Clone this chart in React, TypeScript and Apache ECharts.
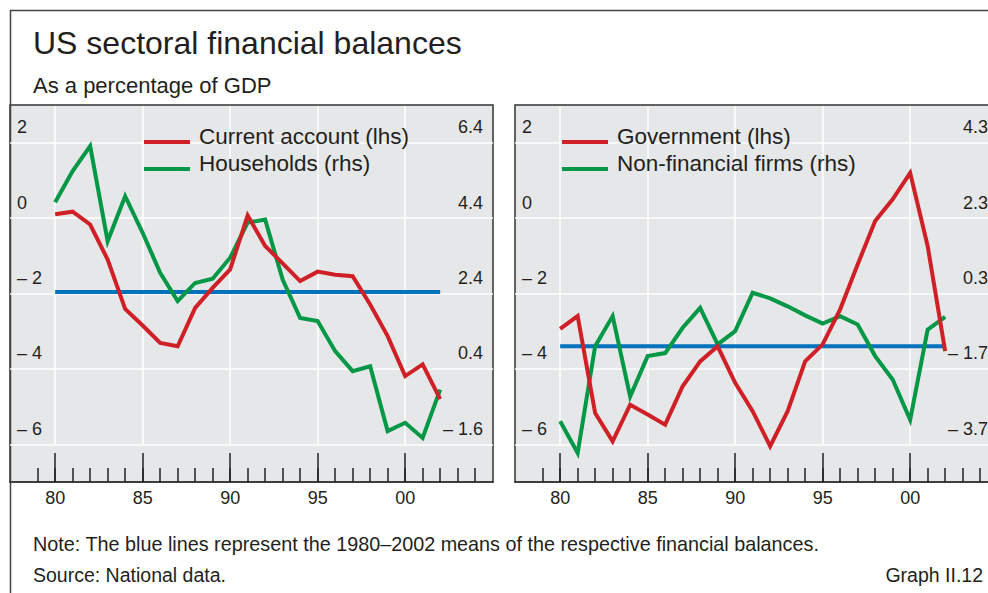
import React, { useEffect, useRef } from 'react';
import * as echarts from 'echarts';

const FONT = "'Liberation Sans', Arial, Helvetica, sans-serif";
const TEXT = '#231f20';
const RED = '#cf2027';
const GREEN = '#009846';
const BLUE = '#0071bc';
const PANEL_BG = '#e6e7e8';

const years = [1980, 1981, 1982, 1983, 1984, 1985, 1986, 1987, 1988, 1989, 1990, 1991, 1992, 1993, 1994, 1995, 1996, 1997, 1998, 1999, 2000, 2001, 2002];

// Left panel
const currentAccount = [0.1, 0.17, -0.17, -1.1, -2.41, -2.85, -3.31, -3.4, -2.38, -1.85, -1.36, 0.07, -0.74, -1.2, -1.67, -1.42, -1.5, -1.54, -2.29, -3.13, -4.19, -3.88, -4.8];
const households = [4.82, 5.65, 6.31, 3.79, 4.98, 4.01, 2.95, 2.2, 2.68, 2.79, 3.35, 4.28, 4.36, 2.77, 1.75, 1.67, 0.87, 0.34, 0.47, -1.25, -1.03, -1.43, -0.15];
const meanLeft = -1.96;

// Right panel
const government = [-2.94, -2.6, -5.17, -5.92, -4.95, -5.21, -5.48, -4.46, -3.8, -3.4, -4.37, -5.12, -6.05, -5.12, -3.8, -3.35, -2.42, -1.23, -0.08, 0.5, 1.2, -0.74, -3.53];
const nonFinancialFirms = [-3.09, -3.93, -1.1, -0.3, -2.43, -1.36, -1.28, -0.61, -0.08, -1.05, -0.7, 0.32, 0.17, -0.04, -0.28, -0.5, -0.3, -0.52, -1.36, -1.98, -3.05, -0.66, -0.32];
const meanRight = -3.4;

const meanYears = [1980, 2002];

const xTickYears = [1980, 1985, 1990, 1995, 2000];
const minorTickYears = [1979, 1980, 1981, 1982, 1983, 1984, 1985, 1986, 1987, 1988, 1989, 1990, 1991, 1992, 1993, 1994, 1995, 1996, 1997, 1998, 1999, 2000, 2001, 2002, 2003, 2004];
const lhsTicks = [-6, -4, -2, 0, 2];
const rhsTicksLeft = [-1.6, 0.4, 2.4, 4.4, 6.4];
const rhsTicksRight = [-3.7, -1.7, 0.3, 2.3, 4.3];

const X_MIN = 1977.42;
const X_MAX = 2005.02;

const pairs = (vals: number[]) => years.map((y, i) => [y, vals[i]]);
const meanPairs = (v: number) => meanYears.map((y) => [y, v]);

const fmtInt = (v: number) => (v < 0 ? '\u2013 ' + Math.abs(v) : String(v));
const fmtDec = (v: number) => (v < 0 ? '\u2013 ' + Math.abs(v).toFixed(1) : v.toFixed(1));
const fmtYear = (v: number) => String(Math.round(v) % 100).padStart(2, '0');

function panelAxes(p: number, rhsMin: number, rhsMax: number, rhsTicks: number[]) {
  const g = p * 2;
  const xAxes = [
    {
      gridIndex: g, type: 'value', min: X_MIN, max: X_MAX, position: 'bottom',
      axisLine: { show: true, onZero: false, lineStyle: { color: '#333', width: 1.5 } },
      axisTick: { show: true, inside: true, length: 29, customValues: xTickYears, lineStyle: { color: '#222', width: 1.5 } },
      axisLabel: { customValues: xTickYears, formatter: fmtYear, fontSize: 18, color: TEXT, fontFamily: FONT, margin: 7 },
      splitLine: { show: false },
    },
    {
      gridIndex: g, type: 'value', min: X_MIN, max: X_MAX, position: 'bottom',
      axisLine: { show: false, onZero: false },
      axisTick: { show: true, inside: true, length: 14, customValues: minorTickYears, lineStyle: { color: '#222', width: 1.5 } },
      axisLabel: { show: false },
      splitLine: { show: false },
    },
    {
      gridIndex: g + 1, type: 'value', min: X_MIN, max: X_MAX, position: 'bottom',
      axisLine: { show: false, onZero: false },
      axisTick: { show: false, customValues: xTickYears },
      axisLabel: { show: false },
      splitLine: { show: true, lineStyle: { color: '#ffffff', width: 1.5 } },
    },
  ];
  const yLabel = { inside: true, verticalAlign: 'bottom', lineHeight: 31, fontSize: 18, color: TEXT, fontFamily: FONT };
  const yAxes = [
    {
      gridIndex: g, type: 'value', min: -7, max: 3, position: 'left',
      axisLine: { show: false },
      axisTick: { show: false, customValues: lhsTicks },
      axisLabel: { ...yLabel, customValues: lhsTicks, margin: 7, formatter: fmtInt },
      splitLine: { show: true, lineStyle: { color: '#ffffff', width: 1.5 } },
    },
    {
      gridIndex: g, type: 'value', min: rhsMin, max: rhsMax, position: 'right',
      axisLine: { show: false },
      axisTick: { show: false, customValues: rhsTicks },
      axisLabel: { ...yLabel, customValues: rhsTicks, margin: 10, formatter: fmtDec },
      splitLine: { show: false },
    },
    { gridIndex: g + 1, type: 'value', min: 0, max: 1, show: false },
  ];
  return { xAxes, yAxes };
}

function lineSeries(name: string, p: number, rhs: boolean, data: number[][], color: string, z: number) {
  return {
    name, type: 'line', xAxisIndex: p * 3, yAxisIndex: p * 3 + (rhs ? 1 : 0), data,
    symbol: 'none', showSymbol: false, z,
    lineStyle: { color, width: 4, cap: 'butt', join: 'miter' },
    itemStyle: { color },
    emphasis: { disabled: true },
  };
}

function legend(left: number, names: string[]) {
  return {
    left, top: 124.5, orient: 'vertical', padding: 0, itemGap: 4,
    itemWidth: 46, itemHeight: 4, icon: 'rect', selectedMode: false,
    data: names,
    itemStyle: { borderWidth: 0 },
    formatter: (name: string) => '{t|' + name + '}',
    textStyle: {
      fontSize: 22.5, color: TEXT, fontFamily: FONT,
      rich: { t: { fontSize: 22.5, color: TEXT, fontFamily: FONT, padding: [0, 0, 12, 4] } },
    },
  };
}

const gridBase = { outerBoundsMode: 'none', containLabel: false };

export default function App() {
  const ref = useRef<HTMLDivElement>(null);
  useEffect(() => {
    if (!ref.current) return;
    const chart = echarts.init(ref.current, undefined, { renderer: 'svg' });
    const L = panelAxes(0, -2.6, 7.4, rhsTicksLeft);
    const R = panelAxes(1, -4.7, 5.3, rhsTicksRight);
    chart.setOption({
      animation: false,
      backgroundColor: '#ffffff',
      textStyle: { fontFamily: FONT },
      grid: [
        { ...gridBase, left: 10, top: 105, width: 483, height: 377, show: true, backgroundColor: PANEL_BG, borderColor: '#333', borderWidth: 1.5 },
        { ...gridBase, left: 10, top: 106, width: 483, height: 338.3, show: false },
        { ...gridBase, left: 515, top: 105, width: 483, height: 377, show: true, backgroundColor: PANEL_BG, borderColor: '#333', borderWidth: 1.5 },
        { ...gridBase, left: 515, top: 106, width: 483, height: 338.3, show: false },
      ],
      xAxis: [...L.xAxes, ...R.xAxes],
      yAxis: [...L.yAxes, ...R.yAxes],
      legend: [
        legend(144, ['Current account (lhs)', 'Households (rhs)']),
        legend(562, ['Government (lhs)', 'Non-financial firms (rhs)']),
      ],
      series: [
        lineSeries('Mean (left)', 0, false, meanPairs(meanLeft), BLUE, 3),
        lineSeries('Households (rhs)', 0, true, pairs(households), GREEN, 4),
        lineSeries('Current account (lhs)', 0, false, pairs(currentAccount), RED, 5),
        lineSeries('Mean (right)', 1, false, meanPairs(meanRight), BLUE, 3),
        lineSeries('Non-financial firms (rhs)', 1, true, pairs(nonFinancialFirms), GREEN, 4),
        lineSeries('Government (lhs)', 1, false, pairs(government), RED, 5),
      ],
      graphic: [
        { type: 'line', shape: { x1: 10, y1: 10.5, x2: 988, y2: 10.5 }, style: { stroke: '#444', lineWidth: 1.5 }, silent: true },
        { type: 'line', shape: { x1: 10.5, y1: 10, x2: 10.5, y2: 593 }, style: { stroke: '#444', lineWidth: 1.5 }, silent: true },
        { type: 'text', x: 33, y: 42.6, style: { text: 'US sectoral financial balances', fontSize: 32, fontFamily: FONT, fill: TEXT, verticalAlign: 'middle', align: 'left' }, silent: true },
        { type: 'text', x: 33, y: 85.1, style: { text: 'As a percentage of GDP', fontSize: 22, fontFamily: FONT, fill: TEXT, verticalAlign: 'middle', align: 'left' }, silent: true },
        { type: 'text', x: 33, y: 544, style: { text: 'Note: The blue lines represent the 1980\u20132002 means of the respective financial balances.', fontSize: 19.8, fontFamily: FONT, fill: TEXT, verticalAlign: 'middle', align: 'left' }, silent: true },
        { type: 'text', x: 33, y: 575, style: { text: 'Source: National data.', fontSize: 19.5, fontFamily: FONT, fill: TEXT, verticalAlign: 'middle', align: 'left' }, silent: true },
        { type: 'text', x: 983, y: 575, style: { text: 'Graph II.12', fontSize: 19.5, fontFamily: FONT, fill: TEXT, verticalAlign: 'middle', align: 'right' }, silent: true },
      ],
    });
    return () => chart.dispose();
  }, []);
  return <div ref={ref} style={{ position: 'fixed', left: 0, top: 0, width: 988, height: 593 }} />;
}
